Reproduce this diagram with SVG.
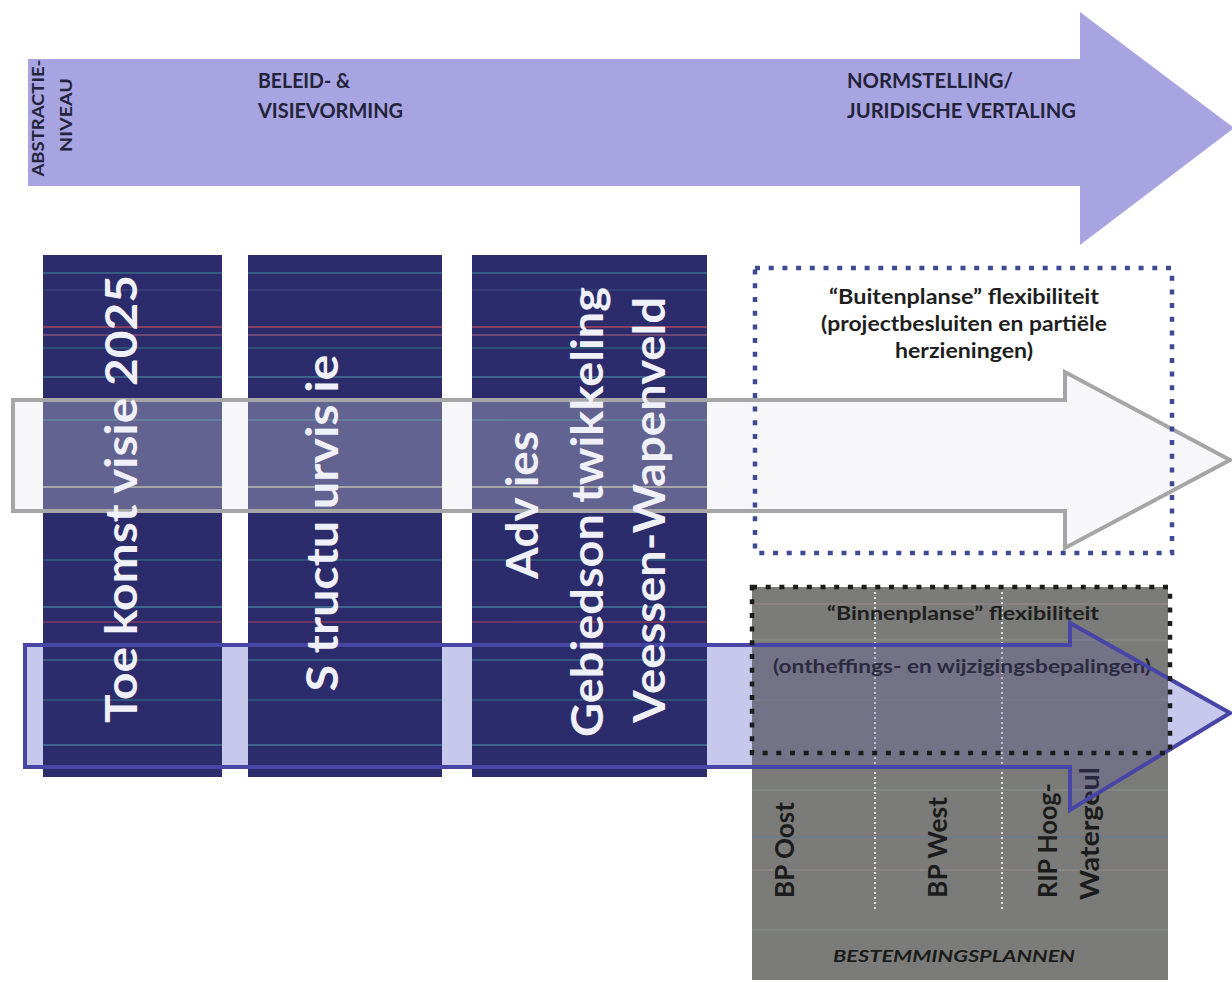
<svg xmlns="http://www.w3.org/2000/svg" width="1232" height="982" viewBox="0 0 1232 982">
<defs>
<style>
.f{font-family:Lato,'Open Sans','Liberation Sans',sans-serif;font-weight:bold}
.hdr{fill:#23233a;font-size:20px}
.side{fill:#23233a;font-size:17px}
.coltxt{fill:#f0f0f8;font-size:43px}
.boxtxt{fill:#1e1e1e;font-size:20px}
.gtxt{fill:#202020;font-size:19px}
.bp{fill:#1c1c1c;font-size:26px}
.streak{stroke-width:1.5;opacity:0.75}
.gstreak{stroke-width:1.5;opacity:0.35}
</style>
<clipPath id="colsClip">
<rect x="43" y="255" width="179" height="522"/>
<rect x="248" y="255" width="194" height="522"/>
<rect x="472" y="255" width="235" height="522"/>
</clipPath>
<clipPath id="grayClip"><rect x="752" y="587" width="416" height="393"/></clipPath>
</defs>
<rect width="1232" height="982" fill="#ffffff"/>

<g id="top-arrow">
<path d="M28,59 H1080 V12 L1234,128 L1080,245 V186 H28 Z" fill="#a8a4e2"/>
<text class="f side" transform="translate(44,118) rotate(-90)" text-anchor="middle" textLength="117" lengthAdjust="spacingAndGlyphs">ABSTRACTIE-</text>
<text class="f side" transform="translate(72,115) rotate(-90)" text-anchor="middle" textLength="74" lengthAdjust="spacingAndGlyphs">NIVEAU</text>
<text class="f hdr" x="258" y="88" textLength="92" lengthAdjust="spacingAndGlyphs">BELEID- &amp;</text>
<text class="f hdr" x="258" y="118" textLength="145" lengthAdjust="spacingAndGlyphs">VISIEVORMING</text>
<text class="f hdr" x="847" y="88" textLength="166" lengthAdjust="spacingAndGlyphs">NORMSTELLING/</text>
<text class="f hdr" x="847" y="118" textLength="229" lengthAdjust="spacingAndGlyphs">JURIDISCHE VERTALING</text>
</g>

<g id="blue-arrow-base">
<path d="M25,645 H1070 V623 L1230,713 L1070,810 V767 H25 Z" fill="#c7c8ec"/>
</g>

<g id="columns">
<rect x="43" y="255" width="179" height="522" fill="#2c2b6b"/>
<rect x="248" y="255" width="194" height="522" fill="#2c2b6b"/>
<rect x="472" y="255" width="235" height="522" fill="#2c2b6b"/>
<g clip-path="url(#colsClip)">
<line class="streak" x1="40" y1="273" x2="710" y2="273" stroke="#3f8a9a"/>
<line class="streak" x1="40" y1="290" x2="710" y2="290" stroke="#3a5080"/>
<line class="streak" x1="40" y1="327" x2="710" y2="327" stroke="#d0505a"/>
<line class="streak" x1="40" y1="335" x2="710" y2="335" stroke="#a06080"/>
<line class="streak" x1="40" y1="348" x2="710" y2="348" stroke="#2f7080"/>
<line class="streak" x1="40" y1="377" x2="710" y2="377" stroke="#4a90a0"/>
<line class="streak" x1="40" y1="420" x2="710" y2="420" stroke="#307488"/>
<line class="streak" x1="40" y1="487" x2="710" y2="487" stroke="#d8d8a0"/>
<line class="streak" x1="40" y1="560" x2="710" y2="560" stroke="#307488"/>
<line class="streak" x1="40" y1="607" x2="710" y2="607" stroke="#4a98a8"/>
<line class="streak" x1="40" y1="622" x2="710" y2="622" stroke="#a04060"/>
<line class="streak" x1="40" y1="660" x2="710" y2="660" stroke="#3a8090"/>
<line class="streak" x1="40" y1="700" x2="710" y2="700" stroke="#307488"/>
<line class="streak" x1="40" y1="745" x2="710" y2="745" stroke="#4a90a0"/>
</g>
</g>

<g id="bestemmingsplannen">
<rect x="752" y="587" width="416" height="393" fill="#7b7c79"/>
<g clip-path="url(#grayClip)">
<line class="gstreak" x1="750" y1="604" x2="1170" y2="604" stroke="#b09a9a"/>
<line class="gstreak" x1="750" y1="640" x2="1170" y2="640" stroke="#9aa89a"/>
<line class="gstreak" x1="750" y1="700" x2="1170" y2="700" stroke="#a89a9a"/>
<line class="gstreak" x1="750" y1="790" x2="1170" y2="790" stroke="#9aa8a0"/>
<line class="gstreak" x1="750" y1="837" x2="1170" y2="837" stroke="#6078b0"/>
<line class="gstreak" x1="750" y1="870" x2="1170" y2="870" stroke="#b0a0a0"/>
<line class="gstreak" x1="750" y1="930" x2="1170" y2="930" stroke="#a0b0a0"/>
</g>
<line x1="875" y1="592" x2="875" y2="910" stroke="#dcdcdc" stroke-width="2" stroke-dasharray="2 3"/>
<line x1="1002" y1="592" x2="1002" y2="910" stroke="#dcdcdc" stroke-width="2" stroke-dasharray="2 3"/>
<text class="f bp" transform="translate(794,898) rotate(-90)" textLength="96" lengthAdjust="spacingAndGlyphs">BP Oost</text>
<text class="f bp" transform="translate(947,898) rotate(-90)" textLength="101" lengthAdjust="spacingAndGlyphs">BP West</text>
<text class="f bp" transform="translate(1057,898) rotate(-90)" textLength="115" lengthAdjust="spacingAndGlyphs">RIP Hoog-</text>
<text class="f bp" transform="translate(1099,900) rotate(-90)" textLength="133" lengthAdjust="spacingAndGlyphs">Watergeul</text>
<text class="f" x="833" y="962" font-size="17" font-style="italic" fill="#1c1c1c" textLength="242" lengthAdjust="spacingAndGlyphs">BESTEMMINGSPLANNEN</text>
</g>

<g id="binnenplanse">
<text class="f gtxt" x="963" y="620" text-anchor="middle" textLength="272" lengthAdjust="spacingAndGlyphs">“Binnenplanse” flexibiliteit</text>
<text class="f gtxt" x="962" y="673" text-anchor="middle" textLength="378" lengthAdjust="spacingAndGlyphs">(ontheffings- en wijzigingsbepalingen)</text>
</g>

<g id="connectors">
<path id="gray-arrow" d="M13,400 H1065 V372 L1230,460 L1065,548 V511 H13 Z" fill="#e6e6ea" fill-opacity="0.3" stroke="#a6a6a6" stroke-width="4"/>
<path d="M25,645 H1070 V623 L1230,713 L1070,810 V767 H25 Z" fill="#5553b8" fill-opacity="0.22" clip-path="url(#grayClip)"/>
<path id="blue-arrow" d="M25,645 H1070 V623 L1230,713 L1070,810 V767 H25 Z" fill="none" stroke="#4746a6" stroke-width="4"/>
</g>

<g id="col1">
<text class="f coltxt" transform="translate(137,499) rotate(-90)" text-anchor="middle" textLength="448" lengthAdjust="spacingAndGlyphs">Toe komst visie 2025</text>
</g>
<g id="col2">
<text class="f coltxt" transform="translate(338,523) rotate(-90)" text-anchor="middle" textLength="337" lengthAdjust="spacingAndGlyphs">S tructu urvis ie</text>
</g>
<g id="col3">
<text class="f coltxt" transform="translate(538,505) rotate(-90)" text-anchor="middle" textLength="148" lengthAdjust="spacingAndGlyphs">Adv ies</text>
<text class="f coltxt" transform="translate(603,512) rotate(-90)" text-anchor="middle" textLength="450" lengthAdjust="spacingAndGlyphs">Gebiedson twikkeling</text>
<text class="f coltxt" transform="translate(665,510) rotate(-90)" text-anchor="middle" textLength="426" lengthAdjust="spacingAndGlyphs">Veessen-Wapenveld</text>
</g>

<g id="buitenplanse">
<rect x="755" y="268" width="417" height="285" fill="none" stroke="#3e4b92" stroke-width="4.5" stroke-dasharray="5 8.7"/>
<text class="f boxtxt" x="964" y="304" text-anchor="middle" textLength="270" lengthAdjust="spacingAndGlyphs">“Buitenplanse” flexibiliteit</text>
<text class="f boxtxt" x="964" y="331" text-anchor="middle" textLength="286" lengthAdjust="spacingAndGlyphs">(projectbesluiten en partiële</text>
<text class="f boxtxt" x="964" y="358" text-anchor="middle" textLength="138" lengthAdjust="spacingAndGlyphs">herzieningen)</text>
</g>

<g id="binnenplanse-border">
<rect x="752" y="587" width="418" height="166" fill="none" stroke="#1c1c1c" stroke-width="4.5" stroke-dasharray="5 8.7"/>
</g>
</svg>
